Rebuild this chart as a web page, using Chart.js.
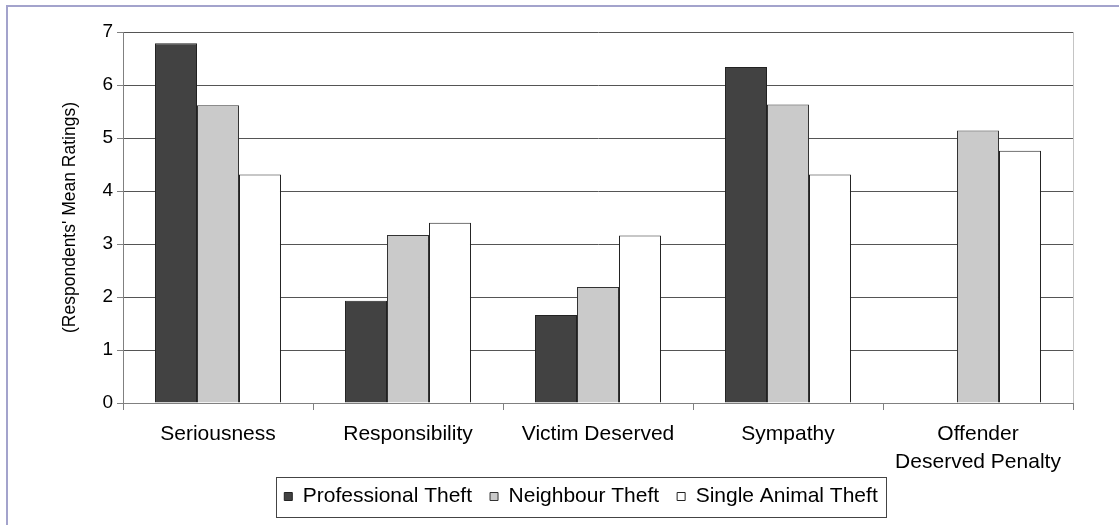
<!DOCTYPE html>
<html>
<head>
<meta charset="utf-8">
<title>Respondents' Mean Ratings</title>
<script src="https://cdn.jsdelivr.net/npm/chart.js@4.4.1/dist/chart.umd.min.js"></script>
<style>
    body { margin: 0; background: #fff; overflow: hidden; }
    #wrap { position: relative; width: 1119px; height: 525px; }
    #frame {
        position: absolute; left: 6px; top: 5px; right: -10px; bottom: -10px;
        border-left: 2px solid #a3a3cc; border-top: 2px solid #a3a3cc;
    }
    canvas { position: absolute; left: 0; top: 0; }
</style>
</head>
<body>
<div id="wrap">
    <div id="frame"></div>
    <canvas id="ratingsChart" width="1119" height="525"></canvas>
</div>
<script>
// Chart data
const categories = ['Seriousness', 'Responsibility', 'Victim Deserved', 'Sympathy', ['Offender', 'Deserved Penalty']];
const professionalTheft = [6.79, 1.93, 1.66, 6.34, null];
const neighbourTheft = [5.62, 3.17, 2.19, 5.63, 5.14];
const singleAnimalTheft = [4.31, 3.40, 3.16, 4.31, 4.76];
const seriesNames = ['Professional Theft', 'Neighbour Theft', 'Single Animal Theft'];
const yMin = 0;
const yMax = 7;
const yStep = 1;

const FONT = "'Liberation Sans', Arial, sans-serif";
const LEGEND_SHIFT_X = 17;
const LEGEND_SHIFT_Y = -7;

// Nudge the legend into place (hitboxes get rebuilt from these afterwards),
// then draw its frame and the right plot edge
const framePlugin = {
    id: 'frames',
    afterLayout(chart) {
        const lg = chart.legend;
        lg.left += LEGEND_SHIFT_X;
        lg.right += LEGEND_SHIFT_X;
        lg.top += LEGEND_SHIFT_Y;
        lg.bottom += LEGEND_SHIFT_Y;
    },
    afterDraw(chart) {
        const ctx = chart.ctx;
        const area = chart.chartArea;
        ctx.save();
        // right edge of plot area
        ctx.strokeStyle = '#c4c4c4';
        ctx.lineWidth = 1;
        ctx.beginPath();
        ctx.moveTo(Math.round(area.right) + 0.5, area.top);
        ctx.lineTo(Math.round(area.right) + 0.5, area.bottom);
        ctx.stroke();

        // legend box
        const boxes = chart.legend.legendHitBoxes;
        if (boxes.length) {
            const first = boxes[0];
            const last = boxes[boxes.length - 1];
            const cy = first.top + first.height / 2;
            const x0 = Math.round(first.left - 8) + 0.5;
            const x1 = Math.round(last.left + last.width + 8) + 0.5;
            const y0 = Math.round(cy - 20) + 0.5;
            const y1 = Math.round(cy + 20) + 0.5;
            ctx.strokeStyle = '#444';
            ctx.strokeRect(x0, y0, x1 - x0, y1 - y0);
        }
        ctx.restore();
    }
};

const ctx = document.getElementById('ratingsChart').getContext('2d');

new Chart(ctx, {
    type: 'bar',
    data: {
        labels: categories,
        datasets: [
            {
                label: seriesNames[0],
                data: professionalTheft,
                backgroundColor: '#424242',
                borderColor: '#222',
                borderWidth: 1
            },
            {
                label: seriesNames[1],
                data: neighbourTheft,
                backgroundColor: '#cacaca',
                borderColor: '#333',
                borderWidth: 1
            },
            {
                label: seriesNames[2],
                data: singleAnimalTheft,
                backgroundColor: '#ffffff',
                borderColor: '#222',
                borderWidth: 1
            }
        ]
    },
    options: {
        responsive: false,
        animation: false,
        categoryPercentage: 0.663,
        barPercentage: 1,
        layout: {
            padding: { left: 55, top: 32, right: 46, bottom: 1 }
        },
        plugins: {
            tooltip: { enabled: false },
            legend: {
                position: 'bottom',
                labels: {
                    boxWidth: 8,
                    boxHeight: 8,
                    padding: 18,
                    color: '#000',
                    font: { family: FONT, size: 21 }
                }
            }
        },
        scales: {
            x: {
                grid: {
                    display: true,
                    drawOnChartArea: false,
                    offset: true,
                    tickLength: 7,
                    color: '#808080'
                },
                border: { color: '#808080', width: 1 },
                ticks: {
                    color: '#000',
                    padding: 10,
                    font: { family: FONT, size: 21, lineHeight: 1.35 },
                    maxRotation: 0,
                    autoSkip: false
                },
                afterFit(scale) { scale.height = 72; }
            },
            y: {
                min: yMin,
                max: yMax,
                ticks: {
                    stepSize: yStep,
                    color: '#000',
                    padding: 4,
                    font: { family: FONT, size: 19 }
                },
                grid: {
                    color: '#555',
                    tickColor: '#808080',
                    tickLength: 6
                },
                border: { color: '#808080', width: 1 },
                title: {
                    display: true,
                    text: "(Respondents' Mean Ratings)",
                    color: '#000',
                    padding: { top: 5, bottom: 0 },
                    font: { family: FONT, size: 17.5 }
                },
                afterFit(scale) { scale.width = 68; }
            }
        }
    },
    plugins: [framePlugin]
});
</script>
</body>
</html>
